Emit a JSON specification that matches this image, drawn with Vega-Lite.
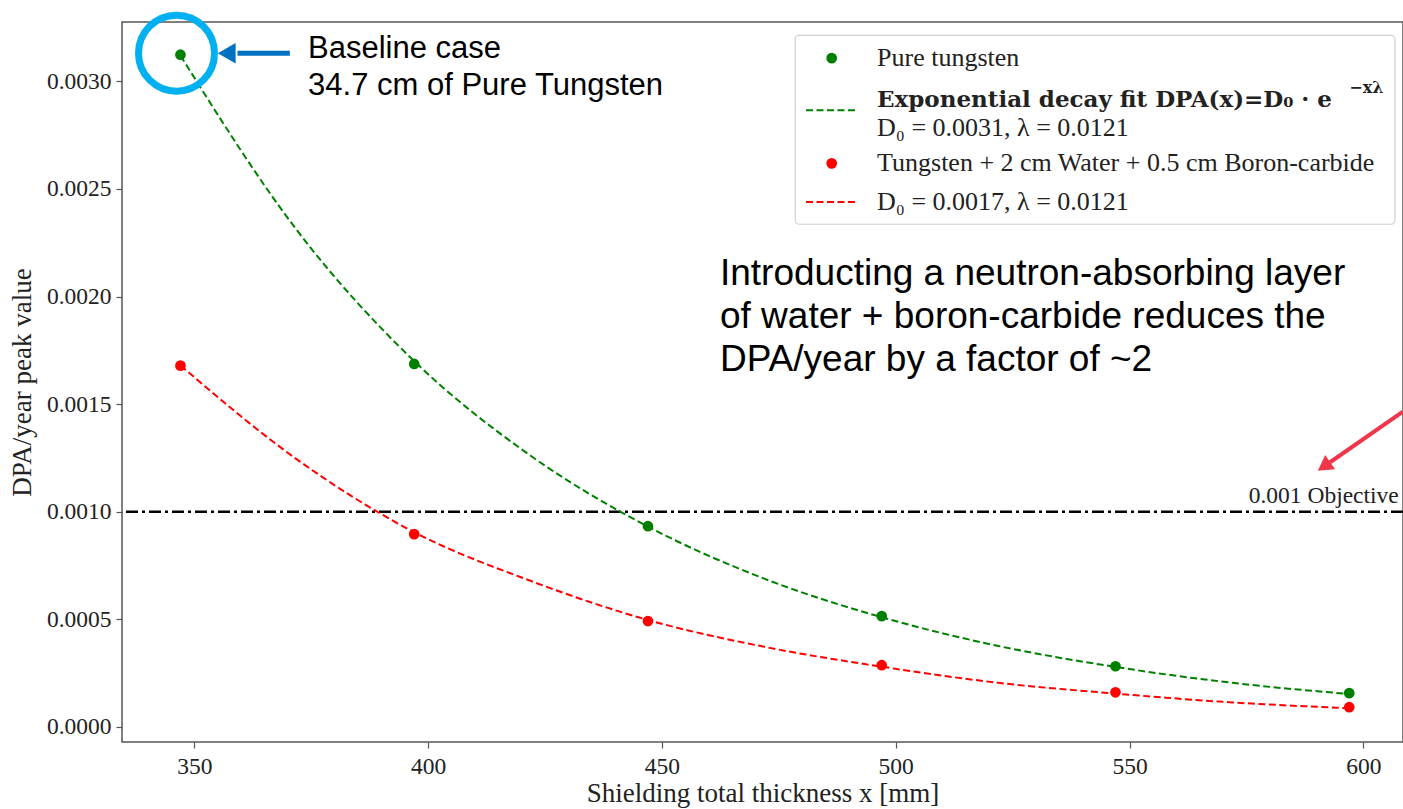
{
  "$schema": "https://vega.github.io/schema/vega-lite/v6.json",
  "width": 1281,
  "height": 720,
  "autosize": {"type": "none"},
  "padding": {"left": 122, "top": 22, "right": 0, "bottom": 67},
  "background": "white",
  "config": {
    "view": {"stroke": "#555555", "strokeWidth": 1.5},
    "axis": {
      "labelFont": "Liberation Serif",
      "labelFontSize": 23.5,
      "labelColor": "#222222",
      "titleFont": "Liberation Serif",
      "titleFontSize": 27,
      "titleFontWeight": "normal",
      "titleColor": "#222222",
      "tickColor": "#555555",
      "tickSize": 6,
      "tickWidth": 1.2,
      "domain": false,
      "grid": false
    }
  },
  "datasets": {
    "pts": [
      {"series": "Pure tungsten", "x": 347, "dpa": 0.003124},
      {"series": "Pure tungsten", "x": 397, "dpa": 0.001687},
      {"series": "Pure tungsten", "x": 447, "dpa": 0.000933},
      {"series": "Pure tungsten", "x": 497, "dpa": 0.000515},
      {"series": "Pure tungsten", "x": 547, "dpa": 0.000282},
      {"series": "Pure tungsten", "x": 597, "dpa": 0.000157},
      {"series": "Tungsten + water + B4C", "x": 347, "dpa": 0.001679},
      {"series": "Tungsten + water + B4C", "x": 397, "dpa": 0.000896},
      {"series": "Tungsten + water + B4C", "x": 447, "dpa": 0.000492},
      {"series": "Tungsten + water + B4C", "x": 497, "dpa": 0.000287},
      {"series": "Tungsten + water + B4C", "x": 547, "dpa": 0.000161},
      {"series": "Tungsten + water + B4C", "x": 597, "dpa": 0.0000916}
    ],
    "fit": [
      {"series": "Pure tungsten", "x": 347, "dpa": 0.00312},
      {"series": "Pure tungsten", "x": 372, "dpa": 0.002306},
      {"series": "Pure tungsten", "x": 397, "dpa": 0.001700},
      {"series": "Pure tungsten", "x": 422, "dpa": 0.001259},
      {"series": "Pure tungsten", "x": 447, "dpa": 0.000931},
      {"series": "Pure tungsten", "x": 472, "dpa": 0.000688},
      {"series": "Pure tungsten", "x": 497, "dpa": 0.000510},
      {"series": "Pure tungsten", "x": 522, "dpa": 0.000376},
      {"series": "Pure tungsten", "x": 547, "dpa": 0.000279},
      {"series": "Pure tungsten", "x": 572, "dpa": 0.000205},
      {"series": "Pure tungsten", "x": 597, "dpa": 0.000153},
      {"series": "Tungsten + water + B4C", "x": 347, "dpa": 0.00168},
      {"series": "Tungsten + water + B4C", "x": 372, "dpa": 0.001242},
      {"series": "Tungsten + water + B4C", "x": 397, "dpa": 0.000905},
      {"series": "Tungsten + water + B4C", "x": 422, "dpa": 0.000678},
      {"series": "Tungsten + water + B4C", "x": 447, "dpa": 0.000497},
      {"series": "Tungsten + water + B4C", "x": 472, "dpa": 0.000372},
      {"series": "Tungsten + water + B4C", "x": 497, "dpa": 0.000280},
      {"series": "Tungsten + water + B4C", "x": 522, "dpa": 0.000205},
      {"series": "Tungsten + water + B4C", "x": 547, "dpa": 0.000155},
      {"series": "Tungsten + water + B4C", "x": 572, "dpa": 0.000114},
      {"series": "Tungsten + water + B4C", "x": 597, "dpa": 0.0000870}
    ]
  },
  "layer": [
    {
      "data": {"values": [{}]},
      "mark": {"type": "rule", "color": "black", "strokeWidth": 2.6, "strokeDash": [12, 4, 3, 4]},
      "encoding": {
        "y": {"datum": 0.001, "type": "quantitative"}
      }
    },
    {
      "data": {"name": "fit"},
      "mark": {"type": "line", "strokeWidth": 2, "strokeDash": [7, 3.5], "interpolate": "monotone"},
      "encoding": {
        "x": {"field": "x", "type": "quantitative"},
        "y": {"field": "dpa", "type": "quantitative"},
        "color": {"field": "series", "type": "nominal", "scale": {"domain": ["Pure tungsten", "Tungsten + water + B4C"], "range": ["#008000", "#ff0000"]}, "legend": null},
        "detail": {"field": "series"}
      }
    },
    {
      "data": {"name": "pts"},
      "mark": {"type": "circle", "size": 115, "opacity": 1},
      "encoding": {
        "x": {
          "field": "x", "type": "quantitative",
          "scale": {"domain": [334.5, 608.5], "nice": false, "zero": false},
          "axis": {"title": "Shielding total thickness x [mm]", "values": [350, 400, 450, 500, 550, 600], "labelPadding": 6, "titlePadding": 3}
        },
        "y": {
          "field": "dpa", "type": "quantitative",
          "scale": {"domain": [-0.00007, 0.003276], "nice": false, "zero": false},
          "axis": {"title": "DPA/year peak value", "values": [0, 0.0005, 0.001, 0.0015, 0.002, 0.0025, 0.003], "format": ".4f", "labelPadding": 5, "titlePadding": 10}
        },
        "color": {"field": "series", "type": "nominal", "scale": {"domain": ["Pure tungsten", "Tungsten + water + B4C"], "range": ["#008000", "#ff0000"]}, "legend": null}
      }
    },
    {
      "data": {"values": [{}]},
      "mark": {"type": "text", "text": "0.001 Objective", "font": "Liberation Serif", "fontSize": 23.5, "align": "right", "baseline": "alphabetic", "color": "#222222"},
      "encoding": {
        "x": {"datum": 607.6, "type": "quantitative"},
        "y": {"datum": 0.001042, "type": "quantitative"}
      }
    },
    {
      "data": {"values": [{}]},
      "mark": {"type": "rect", "fill": "white", "fillOpacity": 0.85, "stroke": "#d0d0d0", "strokeWidth": 1.2, "cornerRadius": 4},
      "encoding": {
        "x": {"datum": 478.5, "type": "quantitative"},
        "x2": {"datum": 606.8},
        "y": {"datum": 0.003214, "type": "quantitative"},
        "y2": {"datum": 0.002336}
      }
    },
    {
      "data": {"values": [{}]},
      "mark": {"type": "circle", "size": 115, "opacity": 1, "color": "#008000"},
      "encoding": {
        "x": {"datum": 486.3, "type": "quantitative"},
        "y": {"datum": 0.003108, "type": "quantitative"}
      }
    },
    {
      "data": {"values": [{}]},
      "mark": {"type": "circle", "size": 115, "opacity": 1, "color": "#ff0000"},
      "encoding": {
        "x": {"datum": 486.3, "type": "quantitative"},
        "y": {"datum": 0.002619, "type": "quantitative"}
      }
    },
    {
      "data": {"values": [{}]},
      "mark": {"type": "rule", "color": "#008000", "strokeWidth": 2, "strokeDash": [7, 3.5]},
      "encoding": {
        "x": {"datum": 480.8, "type": "quantitative"},
        "x2": {"datum": 491.8},
        "y": {"datum": 0.002866, "type": "quantitative"}
      }
    },
    {
      "data": {"values": [{}]},
      "mark": {"type": "rule", "color": "#ff0000", "strokeWidth": 2, "strokeDash": [7, 3.5]},
      "encoding": {
        "x": {"datum": 480.8, "type": "quantitative"},
        "x2": {"datum": 491.8},
        "y": {"datum": 0.00244, "type": "quantitative"}
      }
    },
    {
      "data": {"values": [{}]},
      "mark": {"type": "text", "text": "Pure tungsten", "font": "Liberation Serif", "fontSize": 26, "align": "left", "baseline": "middle", "color": "#222222"},
      "encoding": {
        "x": {"datum": 496.0, "type": "quantitative"},
        "y": {"datum": 0.003108, "type": "quantitative"}
      }
    },
    {
      "data": {"values": [{}]},
      "mark": {"type": "text", "text": "Exponential decay fit DPA(x)=D₀ · e", "font": "DejaVu Serif", "fontSize": 23, "fontWeight": "bold", "align": "left", "baseline": "middle", "color": "#222222"},
      "encoding": {
        "x": {"datum": 496.0, "type": "quantitative"},
        "y": {"datum": 0.002913, "type": "quantitative"}
      }
    },
    {
      "data": {"values": [{}]},
      "mark": {"type": "text", "text": "−xλ", "font": "DejaVu Serif", "fontSize": 16, "fontWeight": "bold", "align": "left", "baseline": "middle", "color": "#222222"},
      "encoding": {
        "x": {"datum": 597.0, "type": "quantitative"},
        "y": {"datum": 0.002968, "type": "quantitative"}
      }
    },
    {
      "data": {"values": [{}]},
      "mark": {"type": "text", "text": "D₀ = 0.0031, λ = 0.0121", "font": "Liberation Serif", "fontSize": 26, "align": "left", "baseline": "middle", "color": "#222222"},
      "encoding": {
        "x": {"datum": 496.0, "type": "quantitative"},
        "y": {"datum": 0.002782, "type": "quantitative"}
      }
    },
    {
      "data": {"values": [{}]},
      "mark": {"type": "text", "text": "Tungsten + 2 cm Water + 0.5 cm Boron-carbide", "font": "Liberation Serif", "fontSize": 26, "align": "left", "baseline": "middle", "color": "#222222"},
      "encoding": {
        "x": {"datum": 496.0, "type": "quantitative"},
        "y": {"datum": 0.002619, "type": "quantitative"}
      }
    },
    {
      "data": {"values": [{}]},
      "mark": {"type": "text", "text": "D₀ = 0.0017, λ = 0.0121", "font": "Liberation Serif", "fontSize": 26, "align": "left", "baseline": "middle", "color": "#222222"},
      "encoding": {
        "x": {"datum": 496.0, "type": "quantitative"},
        "y": {"datum": 0.00244, "type": "quantitative"}
      }
    },
    {
      "data": {"values": [{}]},
      "mark": {"type": "point", "shape": "circle", "filled": false, "size": 5776, "stroke": "#00B0F0", "strokeWidth": 7, "opacity": 1},
      "encoding": {
        "x": {"datum": 346.16, "type": "quantitative"},
        "y": {"datum": 0.003131, "type": "quantitative"}
      }
    },
    {
      "data": {"values": [{}]},
      "mark": {"type": "rule", "color": "#0070C0", "strokeWidth": 5},
      "encoding": {
        "x": {"datum": 359.2, "type": "quantitative"},
        "x2": {"datum": 370.4},
        "y": {"datum": 0.003131, "type": "quantitative"}
      }
    },
    {
      "data": {"values": [{}]},
      "mark": {"type": "point", "shape": "triangle-left", "filled": true, "size": 420, "color": "#0070C0", "opacity": 1},
      "encoding": {
        "x": {"datum": 356.9, "type": "quantitative"},
        "y": {"datum": 0.003131, "type": "quantitative"}
      }
    },
    {
      "data": {"values": [{}]},
      "mark": {"type": "text", "text": "Baseline case\n34.7 cm of Pure Tungsten", "lineBreak": "\n", "lineHeight": 37, "font": "Liberation Sans", "fontSize": 31, "align": "left", "baseline": "alphabetic", "color": "black"},
      "encoding": {
        "x": {"datum": 374.3, "type": "quantitative"},
        "y": {"datum": 0.003107, "type": "quantitative"}
      }
    },
    {
      "data": {"values": [{}]},
      "mark": {"type": "text", "text": "Introducting a neutron-absorbing layer\nof water + boron-carbide reduces the\nDPA/year by a factor of ~2", "lineBreak": "\n", "lineHeight": 43, "font": "Liberation Sans", "fontSize": 37, "align": "left", "baseline": "alphabetic", "color": "black"},
      "encoding": {
        "x": {"datum": 462.4, "type": "quantitative"},
        "y": {"datum": 0.002053, "type": "quantitative"}
      }
    },
    {
      "data": {"values": [{}]},
      "mark": {"type": "rule", "color": "#F0364A", "strokeWidth": 4},
      "encoding": {
        "x": {"datum": 592.9, "type": "quantitative"},
        "x2": {"datum": 608.4},
        "y": {"datum": 0.00123, "type": "quantitative"},
        "y2": {"datum": 0.001464}
      }
    },
    {
      "data": {"values": [{}]},
      "mark": {"type": "point", "shape": "triangle-up", "filled": true, "size": 300, "angle": 235, "color": "#F0364A", "opacity": 1},
      "encoding": {
        "x": {"datum": 591.6, "type": "quantitative"},
        "y": {"datum": 0.001211, "type": "quantitative"}
      }
    }
  ]
}
